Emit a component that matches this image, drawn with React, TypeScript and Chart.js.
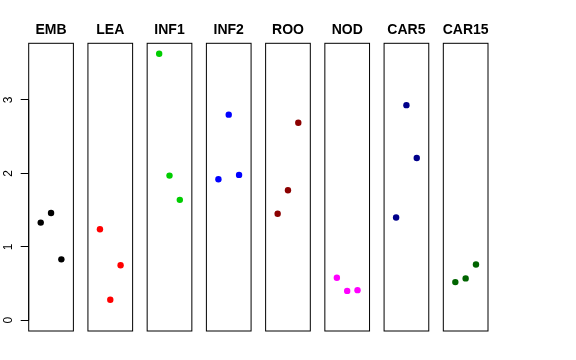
import React, { useEffect, useRef } from 'react';
import { Chart, registerables } from 'chart.js';

Chart.register(...registerables);

const groups = ['EMB', 'LEA', 'INF1', 'INF2', 'ROO', 'NOD', 'CAR5', 'CAR15'];
const colors = ['#000000', '#FF0000', '#00CD00', '#0000FF', '#8B0000', '#FF00FF', '#00008B', '#006400'];

const EMB = [1.33, 1.46, 0.83];
const LEA = [1.24, 0.28, 0.75];
const INF1 = [3.63, 1.97, 1.64];
const INF2 = [1.92, 2.80, 1.98];
const ROO = [1.45, 1.77, 2.69];
const NOD = [0.58, 0.40, 0.41];
const CAR5 = [1.40, 2.93, 2.21];
const CAR15 = [0.52, 0.57, 0.76];

const seriesValues = [EMB, LEA, INF1, INF2, ROO, NOD, CAR5, CAR15];
const yTicks = [0, 1, 2, 3];
const yTickLabels = ['0', '1', '2', '3'];

const PANEL_STEP = 5.739;
const X_LO = -0.165;
const X_HI = 4.165;
const Y_MIN = -0.146;
const Y_MAX = 3.772;

export default function App() {
  const ref = useRef<HTMLCanvasElement | null>(null);

  useEffect(() => {
    const canvas = ref.current;
    if (!canvas) return;

    const datasets = groups.map((g, i) => ({
      label: g,
      data: seriesValues[i].map((v, j) => ({ x: i * PANEL_STEP + (j + 1), y: v })),
      backgroundColor: colors[i],
      borderColor: colors[i],
      pointRadius: 3.2,
      pointBorderWidth: 0,
      pointHoverRadius: 3.2,
    }));

    const panelPlugin = {
      id: 'panels',
      beforeDatasetsDraw(chart: any) {
        const { ctx, chartArea, scales } = chart;
        const xs = scales.x;
        const ys = scales.y;
        ctx.save();
        ctx.strokeStyle = '#000000';
        ctx.lineWidth = 1;
        groups.forEach((g, i) => {
          const l = xs.getPixelForValue(i * PANEL_STEP + X_LO);
          const r = xs.getPixelForValue(i * PANEL_STEP + X_HI);
          ctx.strokeRect(l, chartArea.top, r - l, chartArea.bottom - chartArea.top);
          ctx.fillStyle = '#000000';
          ctx.font = 'bold 14px "Liberation Sans", Arial, sans-serif';
          ctx.textAlign = 'center';
          ctx.textBaseline = 'alphabetic';
          ctx.fillText(g, (l + r) / 2, 34);
        });
        // y axis line from first to last tick
        const x0 = chartArea.left;
        ctx.beginPath();
        ctx.moveTo(x0, ys.getPixelForValue(yTicks[0]));
        ctx.lineTo(x0, ys.getPixelForValue(yTicks[yTicks.length - 1]));
        ctx.stroke();
        ctx.restore();
      },
    };

    const chart = new Chart(canvas, {
      type: 'scatter',
      data: { datasets },
      options: {
        animation: false,
        responsive: false,
        events: [],
        layout: { padding: { left: 0, top: 43.3, right: 88, bottom: 29 } },
        plugins: { legend: { display: false }, tooltip: { enabled: false } },
        scales: {
          x: {
            type: 'linear',
            display: false,
            min: X_LO,
            max: 7 * PANEL_STEP + X_HI,
          },
          y: {
            type: 'linear',
            position: 'left',
            min: Y_MIN,
            max: Y_MAX,
            afterBuildTicks: (scale: any) => {
              scale.ticks = yTicks.map((v) => ({ value: v }));
            },
            afterFit: (scale: any) => {
              scale.width = 28.7;
            },
            grid: {
              display: true,
              drawOnChartArea: false,
              drawTicks: true,
              tickLength: 8,
              color: '#000000',
              lineWidth: 1,
            },
            border: { display: false },
            ticks: {
              minRotation: 90,
              maxRotation: 90,
              crossAlign: 'center',
              padding: 9,
              color: '#000000',
              font: { family: '"Liberation Sans", Arial, sans-serif', size: 12 },
              callback: (value: any) => {
                const k = yTicks.indexOf(Number(value));
                return k >= 0 ? yTickLabels[k] : '';
              },
            },
          },
        },
      },
      plugins: [panelPlugin],
    });

    return () => chart.destroy();
  }, []);

  return (
    <div style={{ position: 'absolute', left: 0, top: 0, width: 576, height: 360, background: '#ffffff' }}>
      <canvas ref={ref} width={576} height={360} style={{ display: 'block', width: 576, height: 360 }} />
    </div>
  );
}
